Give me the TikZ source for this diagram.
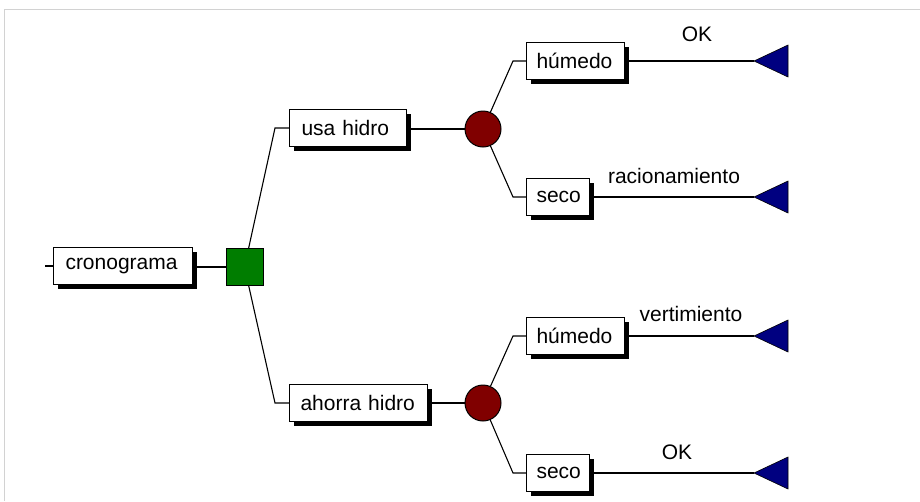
\documentclass[tikz,border=0pt]{standalone}
\usepackage{fontspec}
\setmainfont{Liberation Sans}
\usetikzlibrary{shadows}
\definecolor{decgreen}{RGB}{0,125,0}
\definecolor{chancered}{RGB}{128,0,0}
\definecolor{endblue}{RGB}{0,0,128}
\tikzset{
  x=1pt, y=-1pt,
  every node/.style={font=\fontsize{21}{24}\selectfont},
  label box/.style={draw=black, line width=1pt, fill=white, rectangle,
    minimum height=37pt, inner ysep=0pt, inner xsep=12pt, align=left,
    drop shadow={shadow xshift=4pt, shadow yshift=-4pt, fill=black, opacity=1}},
  decision/.style={draw=black, line width=1pt, fill=decgreen, rectangle,
    minimum size=37pt, inner sep=0pt},
  chance/.style={draw=black, line width=1pt, fill=chancered, circle,
    minimum size=36pt, inner sep=0pt},
  branch/.style={draw=black, line width=1.1pt},
  termmark/.style={fill=endblue, draw=black, line width=0.6pt},
  outcome/.style={inner sep=0pt}
}
\newcommand{\termtri}[2]{%
  \path[termmark] (#1,#2) -- (#1+34,#2-16) -- (#1+34,#2+16) -- cycle;}
\begin{document}
\begin{tikzpicture}
\useasboundingbox (0,0) rectangle (920,501);
% light frame
\draw[gray!35, line width=1pt] (4,501) -- (4,9) -- (920,9);

% nodes
\node[label box, text width=115pt, anchor=west] (cron) at (53,266) {cronograma};
\node[decision] (sq) at (244.5,267) {};
\node[label box, text width=93pt, anchor=west] (usa) at (289,128) {usa hidro};
\node[label box, text width=120pt, inner xsep=9pt, anchor=west] (ahorra) at (289,403) {\hspace*{2pt}ahorra hidro};
\node[chance] (c1) at (483,129) {};
\node[chance] (c2) at (483,403) {};
\node[label box, text width=78pt, inner xsep=10pt, anchor=west] (hum1) at (526,61) {húmedo};
\node[label box, text width=43pt, inner xsep=10pt, anchor=west] (seco1) at (526,197) {seco};
\node[label box, text width=78pt, inner xsep=10pt, anchor=west] (hum2) at (526,336) {húmedo};
\node[label box, text width=43pt, inner xsep=10pt, anchor=west] (seco2) at (526,473) {seco};

% elbows and end points
\coordinate (start) at (45,266);
\coordinate (e1) at (275,128);
\coordinate (e2) at (275,403);
\coordinate (e3) at (513,61);
\coordinate (e4) at (513,197);
\coordinate (e5) at (513,336);
\coordinate (e6) at (513,473);
\coordinate (t1) at (754,61);
\coordinate (t2) at (754,197);
\coordinate (t3) at (754,336);
\coordinate (t4) at (754,473);

% terminal triangles
\termtri{754}{61}
\termtri{754}{197}
\termtri{754}{336}
\termtri{754}{473}

% connectors
\draw[branch] (start) -- (cron.west);
\draw[branch] (cron.east |- sq) -- (sq);
\draw[branch] (sq) -- (e1) -- (usa.west);
\draw[branch] (sq) -- (e2) -- (ahorra.west);
\draw[branch] (usa.east |- c1) -- (c1);
\draw[branch] (ahorra.east) -- (c2);
\draw[branch] (c1) -- (e3) -- (hum1.west);
\draw[branch] (c1) -- (e4) -- (seco1.west);
\draw[branch] (c2) -- (e5) -- (hum2.west);
\draw[branch] (c2) -- (e6) -- (seco2.west);
\draw[branch] (hum1.east) -- (t1);
\draw[branch] (seco1.east) -- (t2);
\draw[branch] (hum2.east) -- (t3);
\draw[branch] (seco2.east) -- (t4);

% outcome labels
\node[outcome] (o1) at (697,34) {OK};
\node[outcome] (o2) at (674,176) {racionamiento};
\node[outcome] (o3) at (691,314) {vertimiento};
\node[outcome] (o4) at (677,452) {OK};
\end{tikzpicture}
\end{document}
